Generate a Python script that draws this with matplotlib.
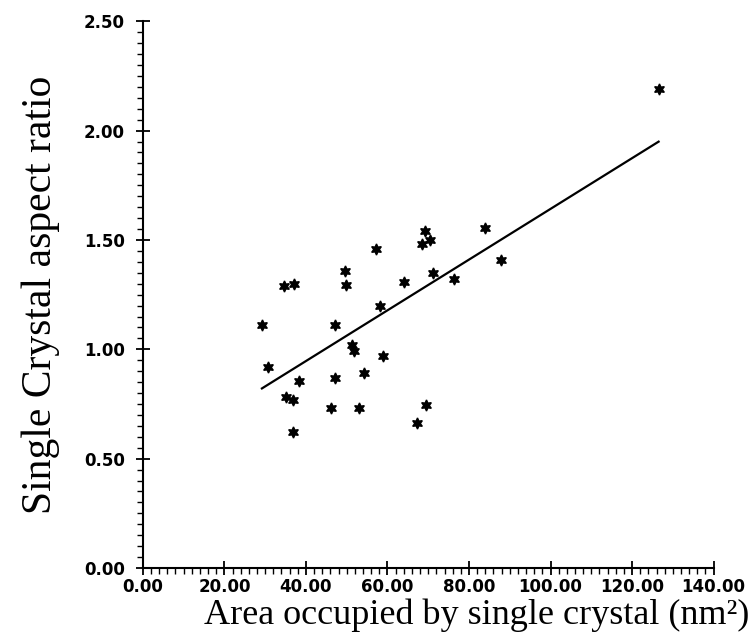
import numpy as np
from matplotlib import pyplot as plt
from matplotlib.ticker import MultipleLocator, FormatStrFormatter

# area occupied by single crystal (nm^2) vs. aspect ratio
area = [29.2, 30.6, 34.6, 37.0, 35.2, 36.9, 36.8, 38.3, 46.2, 47.1, 47.2,
        49.6, 49.7, 51.3, 51.7, 53.1, 54.2, 58.1, 57.1, 58.9, 64.1, 67.2,
        69.1, 68.5, 70.5, 69.5, 71.1, 76.2, 83.8, 87.9, 126.5]
ratio = [1.11, 0.92, 1.29, 1.30, 0.78, 0.77, 0.62, 0.855, 0.73, 0.87, 1.11,
         1.36, 1.295, 1.02, 0.99, 0.73, 0.89, 1.20, 1.46, 0.97, 1.31, 0.665,
         1.54, 1.48, 1.50, 0.745, 1.35, 1.32, 1.555, 1.41, 2.19]

fig = plt.figure(figsize=(7.52, 6.44), dpi=100)
ax = fig.add_axes([0.190, 0.118, 0.759, 0.849])

ax.plot(area, ratio, linestyle='none', marker=(6, 1, 0), markersize=8,
        color='black')

# linear fit over the data range
slope, intercept = np.polyfit(area, ratio, 1)
xfit = np.array([min(area), max(area)])
ax.plot(xfit, slope * xfit + intercept, color='black', linewidth=1.6)

ax.set_xlim(0, 140)
ax.set_ylim(0, 2.5)
ax.spines['top'].set_visible(False)
ax.spines['right'].set_visible(False)
for s in ('left', 'bottom'):
    ax.spines[s].set_linewidth(1.5)

ax.xaxis.set_major_locator(MultipleLocator(20))
ax.xaxis.set_minor_locator(MultipleLocator(2))
ax.yaxis.set_major_locator(MultipleLocator(0.5))
ax.yaxis.set_minor_locator(MultipleLocator(0.05))
ax.xaxis.set_major_formatter(FormatStrFormatter('%.2f'))
ax.yaxis.set_major_formatter(FormatStrFormatter('%.2f'))

ax.tick_params(which='major', direction='inout', length=10, width=1.3,
               labelsize=12)
ax.tick_params(axis='y', which='major', pad=8)
ax.tick_params(axis='x', which='major', pad=2)
ax.tick_params(which='minor', direction='out', length=4, width=1.0)
for lab in ax.get_xticklabels() + ax.get_yticklabels():
    lab.set_fontweight('bold')
    lab.set_family('DejaVu Sans')

ax.set_xlabel('Area occupied by single crystal (nm\u00b2)',
              family='Liberation Serif', fontsize=26, labelpad=2)
ax.xaxis.set_label_coords(0.585, -0.055)
ax.set_ylabel('Single Crystal aspect ratio',
              family='Liberation Serif', fontsize=30, labelpad=17)

fig.savefig('out.png', dpi=100)
